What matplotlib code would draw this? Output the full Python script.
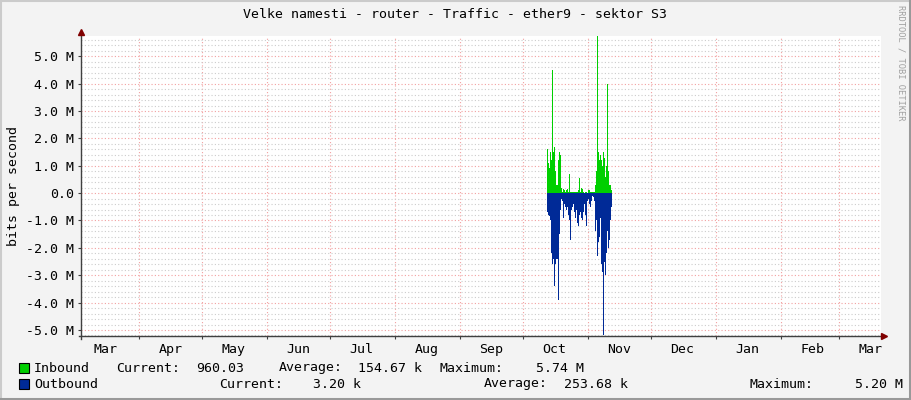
import matplotlib
matplotlib.use('Agg')
import matplotlib.pyplot as plt
import matplotlib.dates as mdates
from matplotlib.ticker import MultipleLocator, FuncFormatter
from matplotlib.patches import Rectangle
from matplotlib.lines import Line2D
import pandas as pd

# traffic in Mbit/s, one value per consolidated step (about 11.5 h)
inbound = [1.6, 1.1, 0.9, 1.5, 1.2, 4.5, 1.5, 1.7, 0.8, 0.3, 0.3, 1.2, 1.5, 1.4, 0.2,
           0.05, 0.15, 0.1, 0.05, 0.1, 0.15, 0.05, 0.7, 0.05, 0.03, 0.04, 0.05, 0.03,
           0.04, 0.05, 0.05, 0.1, 0.55, 0.05, 0.2, 0.15, 0.05, 0.02, 0.05, 0.03, 0.02,
           0.1, 0.1, 0.05, 0.05, 0.03, 0.05, 0.05, 0.3, 0.8, 5.74, 1.5, 1.2, 1.4, 1.2,
           1.0, 1.5, 1.3, 0.6, 1.0, 4.0, 0.8, 0.3, 0.3, 0.1, 0.0]
outbound = [0.7, 0.8, 0.85, 1.0, 2.2, 2.6, 2.4, 3.4, 2.6, 2.4, 2.4, 3.9, 1.5, 0.6, 0.2,
            0.3, 0.9, 0.4, 0.5, 0.6, 0.5, 0.8, 1.0, 1.7, 0.6, 0.5, 0.4, 0.7, 0.9, 0.6,
            1.1, 1.2, 0.8, 0.7, 0.9, 1.0, 0.7, 0.4, 0.8, 1.2, 0.3, 0.2, 0.4, 0.5, 0.3,
            0.1, 0.15, 0.3, 1.4, 1.0, 2.3, 1.8, 1.6, 0.9, 2.6, 2.9, 5.2, 2.5, 3.0, 2.2,
            1.4, 2.0, 1.7, 1.0, 0.5, 0.0]
times = pd.date_range('2021-10-12 13:00', periods=len(inbound), freq='687min')

title = 'Velke namesti - router - Traffic - ether9 - sektor S3'
legend_in = ['Inbound', 'Current:', '960.03', 'Average:', '154.67 k', 'Maximum:', '5.74 M']
legend_out = ['Outbound', 'Current:', '3.20 k', 'Average:', '253.68 k', 'Maximum:', '5.20 M']

W, H = 911, 400
MONO = 'DejaVu Sans Mono'
FS = 9.5
GREEN = '#00CF00'
BLUE = '#002A97'


def px(x, y):
    return x / W, 1 - y / H


fig = plt.figure(figsize=(W / 100, H / 100), dpi=100, facecolor='#F3F3F3')
ax = fig.add_axes([81 / W, 64 / H, 800 / W, 300 / H])
ax.set_facecolor('white')

inb = [v * 1e6 for v in inbound]
outb = [-v * 1e6 for v in outbound]
ax.fill_between(times, 0, inb, step='post', color=GREEN, lw=0)
ax.fill_between(times, 0, outb, step='post', color=BLUE, lw=0)

ax.set_xlim(pd.Timestamp('2021-03-04 05:00'), pd.Timestamp('2022-03-20 21:00'))
ax.set_ylim(-5.22e6, 5.74e6)

ax.xaxis.set_major_locator(mdates.MonthLocator(bymonthday=1))
ax.xaxis.set_major_formatter(FuncFormatter(lambda v, p: ''))
ax.xaxis.set_minor_locator(mdates.MonthLocator(bymonthday=16))
ax.xaxis.set_minor_formatter(mdates.DateFormatter('%b'))
ax.yaxis.set_major_locator(MultipleLocator(1e6))
ax.yaxis.set_minor_locator(MultipleLocator(2e5))


def yfmt(v, p):
    if abs(v) < 1:
        return '0.0'
    return '%.1f M' % (v / 1e6)


ax.yaxis.set_major_formatter(FuncFormatter(yfmt))

ax.grid(which='major', axis='both', color='#F2A0A0', lw=0.8, ls=(0, (1, 2)))
ax.grid(which='minor', axis='y', color='#CCCCCC', lw=0.8, ls=(0, (1, 2)))
ax.set_axisbelow(True)

ax.tick_params(axis='x', which='minor', length=0, pad=5, labelsize=FS)
ax.tick_params(axis='x', which='major', length=2, color='#404040')
ax.tick_params(axis='y', which='major', length=2, pad=3, labelsize=FS, color='#404040')
ax.tick_params(axis='y', which='minor', length=0)
for lab in ax.get_xticklabels(minor=True) + ax.get_yticklabels():
    lab.set_fontfamily(MONO)

for s in ax.spines.values():
    s.set_visible(False)
ax.add_line(Line2D([0, 0], [-0.01, 1.012], transform=ax.transAxes, color='#404040', lw=1, clip_on=False))
ax.add_line(Line2D([-0.003, 1.003], [0, 0], transform=ax.transAxes, color='#404040', lw=1, clip_on=False))
ax.plot([0], [1.013], marker='^', ms=4, color='#800000', transform=ax.transAxes, clip_on=False)
ax.plot([1.004], [0], marker='>', ms=4, color='#800000', transform=ax.transAxes, clip_on=False)

ax.set_ylabel('bits per second', fontfamily=MONO, fontsize=FS, labelpad=4)

fig.text(*px(455, 15), title, ha='center', va='center', fontfamily=MONO, fontsize=FS)
fig.text(*px(901, 5), 'RRDTOOL / TOBI OETIKER', rotation=270, ha='center', va='top',
         fontfamily=MONO, fontsize=6.3, color='#A0A0A0')

# legend
xs_in = [34, 116, 196, 279, 358, 440, 536]
xs_out = [34, 219, 313, 484, 564, 749, 855]
for row, (labels, xs, col) in enumerate([(legend_in, xs_in, GREEN), (legend_out, xs_out, BLUE)]):
    yc = 368 + row * 16
    fig.add_artist(Rectangle(px(19, yc + 5), 10 / W, 10 / H, transform=fig.transFigure,
                             facecolor=col, edgecolor='black', lw=0.8))
    for t, x in zip(labels, xs):
        fig.text(*px(x, yc), t, ha='left', va='center', fontfamily=MONO, fontsize=FS)

# frame
fig.add_artist(Line2D([0, 1], [1 - 1 / H, 1 - 1 / H], transform=fig.transFigure, color='#CBCBCB', lw=1.5))
fig.add_artist(Line2D([1 / W, 1 / W], [0, 1], transform=fig.transFigure, color='#CBCBCB', lw=1.5))
fig.add_artist(Line2D([0, 1], [1.5 / H, 1.5 / H], transform=fig.transFigure, color='#999999', lw=2.2))
fig.add_artist(Line2D([1 - 1.5 / W, 1 - 1.5 / W], [0, 1], transform=fig.transFigure, color='#999999', lw=2.2))

fig.savefig('out.png', dpi=100, facecolor=fig.get_facecolor())
